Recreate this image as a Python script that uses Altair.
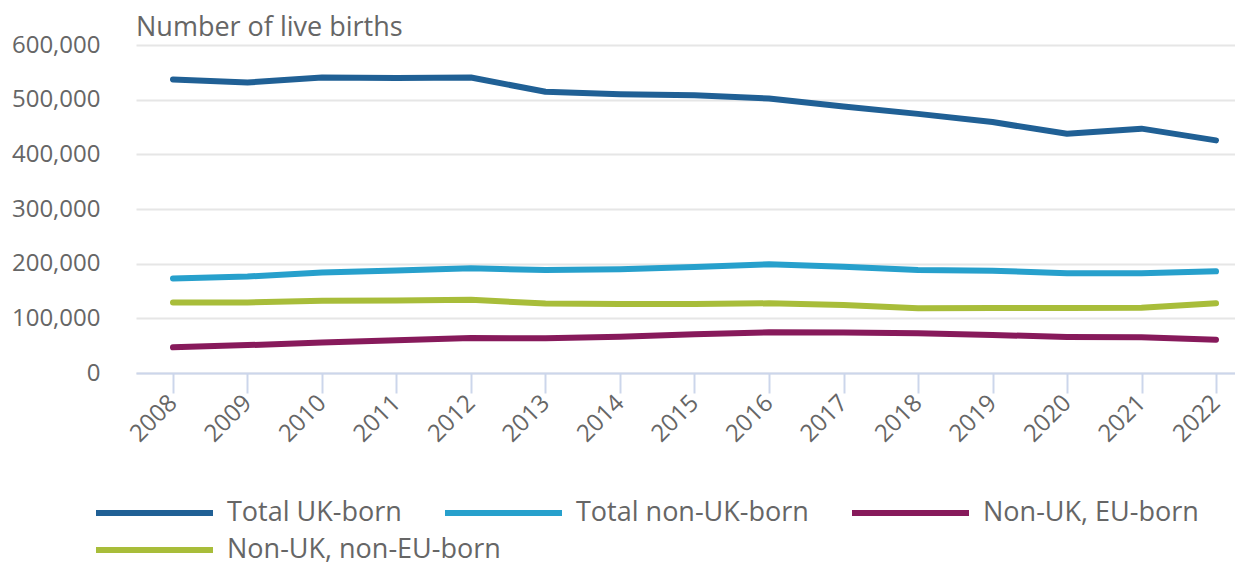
import altair as alt
import pandas as pd

years = [2008, 2009, 2010, 2011, 2012, 2013, 2014, 2015, 2016, 2017, 2018, 2019, 2020, 2021, 2022]
uk_born = [537000, 531500, 540500, 539500, 540500, 514500, 510000, 508000, 502000, 487500, 474000, 459000, 437500, 447000, 425500]
non_uk_born = [173000, 176500, 184000, 187500, 191500, 188500, 190000, 194000, 199000, 194500, 188500, 187000, 182500, 182500, 186000]
eu_born = [47000, 51000, 56000, 60000, 64000, 63500, 66500, 71000, 74500, 74000, 72500, 69500, 66000, 65500, 61000]
non_eu_born = [129000, 129000, 132000, 132500, 134000, 127000, 126000, 126000, 127500, 124500, 118500, 119000, 119000, 119500, 127500]

series_names = ["Total UK-born", "Total non-UK-born", "Non-UK, EU-born", "Non-UK, non-EU-born"]
series_colors = ["#206095", "#27a0cc", "#871a5b", "#a8bd3a"]
y_ticks = [0, 100000, 200000, 300000, 400000, 500000, 600000]

rows = []
for name, vals in zip(series_names, [uk_born, non_uk_born, eu_born, non_eu_born]):
    for yr, v in zip(years, vals):
        rows.append({"year": yr, "births": v, "series": name})
df = pd.DataFrame(rows)

text_color = "#666666"

x_enc = alt.X(
    "year:Q",
    scale=alt.Scale(domain=[2007.5034, 2022.255], nice=False, zero=False),
    axis=alt.Axis(
        values=years, format="d", title=None, grid=False,
        labelAngle=-45, labelAlign="right", labelBaseline="middle",
        labelFontSize=24, labelColor=text_color, labelPadding=6,
        labelOverlap=False, labelFlush=False,
        tickSize=20, tickWidth=2, tickColor="#ccd6eb",
        domainColor="#ccd6eb", domainWidth=2,
    ),
)
y_enc = alt.Y(
    "births:Q",
    scale=alt.Scale(domain=[0, 600000], nice=False),
    axis=alt.Axis(
        values=y_ticks, format=",.0f", title=None,
        grid=True, gridColor="#e6e6e6", gridWidth=2,
        domain=False, ticks=False, tickSize=0,
        labelPadding=36, labelFontSize=24, labelColor=text_color,
    ),
)


def legend(y_pos):
    return alt.Legend(
        title=None, orient="none", legendX=-43, legendY=y_pos,
        direction="horizontal", columnPadding=40, clipHeight=36, padding=0,
        symbolType="stroke", symbolSize=13689, symbolStrokeWidth=6,
        labelFontSize=27, labelColor=text_color, labelOffset=11, labelLimit=600,
    )


base = alt.Chart(df).mark_line(strokeWidth=6, strokeCap="round", strokeJoin="round")

first_row = base.transform_filter(
    alt.FieldOneOfPredicate(field="series", oneOf=series_names[:3])
).encode(
    x=x_enc, y=y_enc,
    color=alt.Color(
        "series:N",
        scale=alt.Scale(domain=series_names[:3], range=series_colors[:3]),
        sort=series_names[:3],
        legend=legend(450),
    ),
)

second_row = base.transform_filter(
    alt.FieldOneOfPredicate(field="series", oneOf=series_names[3:])
).encode(
    x=x_enc, y=y_enc,
    color=alt.Color(
        "series:N",
        scale=alt.Scale(domain=series_names[3:], range=series_colors[3:]),
        legend=legend(487),
    ),
)

chart = alt.layer(first_row, second_row).resolve_scale(
    color="independent"
).properties(
    width=1099,
    height=328,
    title=alt.TitleParams(
        "Number of live births", anchor="start", frame="group", fontSize=27,
        color=text_color, fontWeight="normal", offset=3, dy=12,
    ),
    autosize=alt.AutoSizeParams(type="none"),
    padding={"left": 128, "top": 37, "right": 0, "bottom": 194},
).configure(
    font="Open Sans"
).configure_view(stroke=None)

chart.save("out.html", embed_options={"renderer": "svg", "actions": False})
